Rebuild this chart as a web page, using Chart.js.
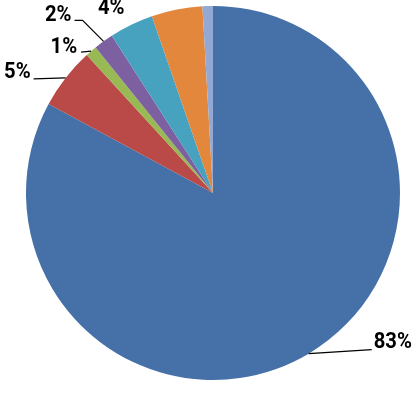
<!DOCTYPE html>
<html>
<head>
<meta charset="utf-8">
<script src="https://cdn.jsdelivr.net/npm/chart.js@4"></script>
<style>
  html, body { margin: 0; padding: 0; background: #fff; }
  #wrap { width: 417px; height: 407px; }
</style>
</head>
<body>
<div id="wrap"><canvas id="pieChart" width="417" height="407"></canvas></div>
<script>
const categories = ['A', 'B', 'C', 'D', 'E', 'F', 'G'];
const values = [82.9, 5.3, 1.0, 1.7, 3.8, 4.4, 0.9];
const pctLabels = ['83%', '5%', '1%', '2%', '4%', '', ''];
const colors = ['#4570A8', '#B94A48', '#98B954', '#7D60A0', '#47A2C0', '#E2873C', '#93A9D3'];

// label placement relative to the slice's outer edge point
const labelLayout = [
    { text: [65, -11], align: 'left', line: [[63, -4]] },
    { text: [-35, -5], align: 'right', line: [[-32, 1]] },
    { text: [-14, -4], align: 'right', line: [[-10, 1]] },
    { text: [-32, -26], align: 'right', line: [[-21, -21], [-29, -21]] },
    { text: [-20, -16], align: 'center', line: [] },
    null,
    null
];

const pieLabels = {
    id: 'pieLabels',
    afterDatasetsDraw(chart) {
        const ctx = chart.ctx;
        const arcs = chart.getDatasetMeta(0).data;
        ctx.save();
        ctx.font = 'bold 22px Roboto, sans-serif';
        ctx.textBaseline = 'middle';
        ctx.fillStyle = '#000';
        ctx.strokeStyle = '#000';
        ctx.lineWidth = 1.2;
        arcs.forEach((arc, i) => {
            const lay = labelLayout[i];
            if (!lay || !pctLabels[i]) return;
            const mid = (arc.startAngle + arc.endAngle) / 2;
            const ex = arc.x + Math.cos(mid) * arc.outerRadius;
            const ey = arc.y + Math.sin(mid) * arc.outerRadius;
            if (lay.line.length) {
                ctx.beginPath();
                ctx.moveTo(ex, ey);
                lay.line.forEach(p => ctx.lineTo(ex + p[0], ey + p[1]));
                ctx.stroke();
            }
            ctx.save();
            ctx.translate(ex + lay.text[0], ey + lay.text[1]);
            ctx.scale(0.92, 1);
            ctx.textAlign = lay.align;
            ctx.fillText(pctLabels[i], 0, 0);
            ctx.restore();
        });
        ctx.restore();
    }
};

const ctx = document.getElementById('pieChart').getContext('2d');
new Chart(ctx, {
    type: 'pie',
    data: {
        labels: categories,
        datasets: [{
            data: values,
            backgroundColor: colors,
            borderWidth: 0
        }]
    },
    options: {
        responsive: false,
        animation: false,
        layout: { padding: { left: 26, right: 17, top: 6, bottom: 27 } },
        plugins: {
            legend: { display: false },
            tooltip: { enabled: false }
        }
    },
    plugins: [pieLabels]
});
</script>
</body>
</html>
